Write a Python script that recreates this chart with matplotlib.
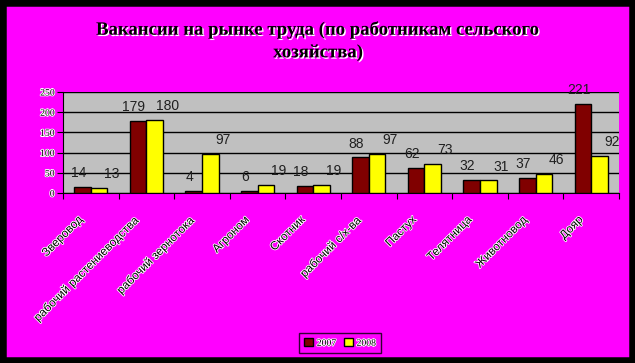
import matplotlib.pyplot as plt
import matplotlib.patheffects as pe
import matplotlib.transforms as mtransforms
import numpy as np

# data
categories = ["Зверовод", "рабочий растениеводства", "рабочий зернотока",
              "Агроном", "Скотник", "рабочий с/х-ва", "Пастух",
              "Телятница", "Животновод", "Дояр"]
vals_2007 = [14, 179, 4, 6, 18, 88, 62, 32, 37, 221]
vals_2008 = [13, 180, 97, 19, 19, 97, 73, 31, 46, 92]
series_names = ["2007", "2008"]
yticks = [0, 50, 100, 150, 200, 250]

title = "Вакансии на рынке труда (по работникам сельского\nхозяйства)"

magenta = "#FF00FF"
maroon = "#800000"
yellow = "#FFFF00"

fig = plt.figure(figsize=(6.35, 3.63), dpi=100)
fig.patch.set_facecolor(magenta)

# black frame round the picture
fig.patches.append(plt.Rectangle((0, 0), 1, 1, transform=fig.transFigure,
                                 fill=False, edgecolor="black", linewidth=9))

ax = fig.add_axes([63 / 635, 170 / 363, 556 / 635, 101 / 363])
ax.set_facecolor("#C0C0C0")

x = np.arange(len(categories))
w = 0.3
b1 = ax.bar(x - w / 2, vals_2007, w, color=maroon, edgecolor="black",
            linewidth=1, label=series_names[0], zorder=3)
b2 = ax.bar(x + w / 2, vals_2008, w, color=yellow, edgecolor="black",
            linewidth=1, label=series_names[1], zorder=3)

# value labels above the bars
for bars, dx in ((b1, -3), (b2, 9)):
    for r in bars:
        ax.annotate(f"{int(r.get_height())}",
                    (r.get_x() + r.get_width() / 2, r.get_height()),
                    xytext=(dx, 5), textcoords="offset points",
                    ha="center", va="bottom", fontsize=10,
                    family="Liberation Sans", color="#202020", zorder=4)

ax.set_xlim(-0.5, len(categories) - 0.5)
ax.set_ylim(0, 250)
ax.set_yticks(yticks)
ax.yaxis.grid(True, color="black", linewidth=1, zorder=1)
ax.set_axisbelow(True)

outline = [pe.withStroke(linewidth=1.2, foreground="white")]
ax.set_yticklabels([str(t) for t in yticks], fontsize=7,
                   family="Liberation Serif", path_effects=outline)

# ticks between categories, names at centres
ax.set_xticks(np.arange(len(categories) + 1) - 0.5)
ax.set_xticklabels([])
ax.set_xticks(x, minor=True)
ax.set_xticklabels(categories, minor=True, rotation=45, ha="right",
                   rotation_mode="anchor", fontsize=8.5,
                   family="Liberation Sans", path_effects=outline)
ax.tick_params(axis="x", which="minor", length=0, pad=15)
ax.tick_params(axis="x", which="major", length=4, direction="out")
ax.tick_params(axis="y", length=4, direction="out", pad=2)
shift = mtransforms.ScaledTranslation(-14 / 100, 0, fig.dpi_scale_trans)
for lab in ax.get_xticklabels(minor=True):
    lab.set_transform(lab.get_transform() + shift)

for s in ("top", "right"):
    ax.spines[s].set_visible(False)
ax.spines["left"].set_color("black")
ax.spines["bottom"].set_color("black")

fig.text(318 / 635, 1 - 41 / 363, title, ha="center", va="center",
         fontsize=13.5, fontweight="bold", family="Liberation Serif",
         linespacing=1.4,
         path_effects=[pe.withSimplePatchShadow(offset=(1, -1),
                                                shadow_rgbFace="white", alpha=1)])

leg = fig.legend(handles=[b1, b2], labels=series_names, loc="center",
                 bbox_to_anchor=(340 / 635, 1 - 343 / 363), ncol=2,
                 frameon=True, prop={"family": "Liberation Serif", "size": 7},
                 handlelength=0.9, handleheight=0.9, handletextpad=0.4,
                 columnspacing=0.8, borderpad=0.5, fancybox=False)
leg.get_frame().set_facecolor(magenta)
leg.get_frame().set_edgecolor("black")
leg.get_frame().set_linewidth(1)
for t in leg.get_texts():
    t.set_path_effects(outline)

fig.savefig("out.png", dpi=100, facecolor=fig.get_facecolor())
